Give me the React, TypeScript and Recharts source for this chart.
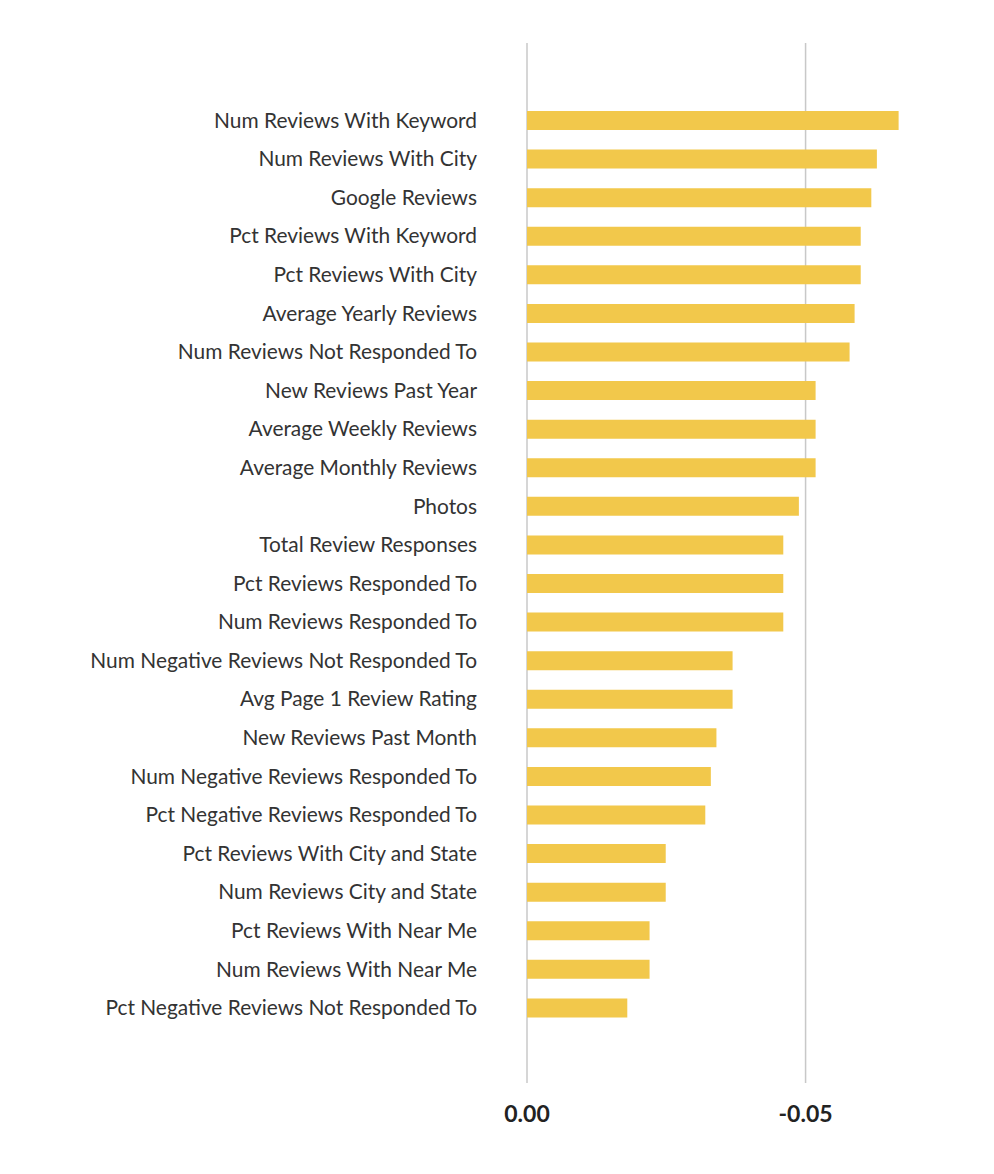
import { BarChart, Bar, XAxis, YAxis, CartesianGrid } from 'recharts';

const features = [
  'Num Reviews With Keyword',
  'Num Reviews With City',
  'Google Reviews',
  'Pct Reviews With Keyword',
  'Pct Reviews With City',
  'Average Yearly Reviews',
  'Num Reviews Not Responded To',
  'New Reviews Past Year',
  'Average Weekly Reviews',
  'Average Monthly Reviews',
  'Photos',
  'Total Review Responses',
  'Pct Reviews Responded To',
  'Num Reviews Responded To',
  'Num Negative Reviews Not Responded To',
  'Avg Page 1 Review Rating',
  'New Reviews Past Month',
  'Num Negative Reviews Responded To',
  'Pct Negative Reviews Responded To',
  'Pct Reviews With City and State',
  'Num Reviews City and State',
  'Pct Reviews With Near Me',
  'Num Reviews With Near Me',
  'Pct Negative Reviews Not Responded To',
];

const correlations = [
  -0.0667, -0.0628, -0.0618, -0.0599, -0.0599, -0.0588, -0.0579, -0.0518,
  -0.0518, -0.0518, -0.0488, -0.046, -0.046, -0.046, -0.0369, -0.0369,
  -0.034, -0.033, -0.032, -0.0249, -0.0249, -0.022, -0.022, -0.018,
];

const xTicks = [0, -0.05];

const data = features.map((name, i) => ({ name, value: correlations[i] }));

export default function App() {
  return (
    <div style={{ background: '#fff' }}>
      <BarChart
        width={970}
        height={1150}
        data={data}
        layout="vertical"
        margin={{ top: 35, right: 61, left: 0, bottom: 15 }}
      >
        <CartesianGrid
          vertical
          horizontal={false}
          verticalValues={xTicks}
          stroke="#c8c8c8"
          strokeWidth={1.5}
        />
        <XAxis
          type="number"
          domain={[-0.07, 0]}
          ticks={xTicks}
          reversed
          axisLine={false}
          tickLine={false}
          tickSize={0}
          tickMargin={23}
          height={60}
          tickFormatter={(v: number) => v.toFixed(2)}
          tick={{ fill: '#222', fontSize: 23, fontWeight: 700, fontFamily: 'Lato' }}
        />
        <YAxis
          type="category"
          dataKey="name"
          width={519}
          axisLine={false}
          tickLine={false}
          tickSize={0}
          tickMargin={50}
          interval={0}
          padding={{ top: 58, bottom: 56 }}
          tick={{ fill: '#333', fontSize: 20.9, fontFamily: 'Lato' }}
        />
        <Bar
          dataKey="value"
          fill="#F2C84B"
          barSize={19}
          isAnimationActive={false}
        />
      </BarChart>
    </div>
  );
}
